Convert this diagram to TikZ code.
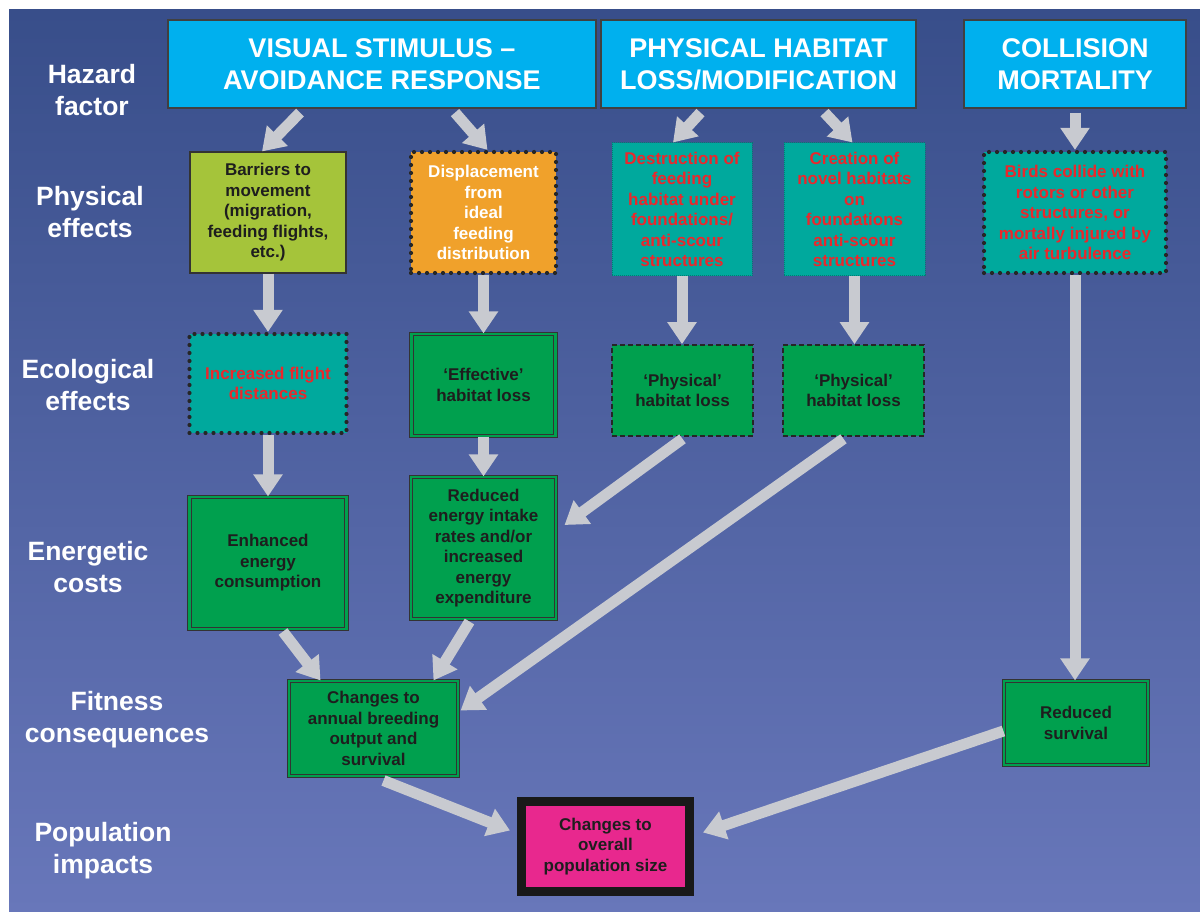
\documentclass[tikz,border=0pt]{standalone}
\usepackage{fontspec}
\setmainfont{Liberation Sans}
\usetikzlibrary{arrows.meta,calc}
\definecolor{bgtop}{RGB}{56,78,138}
\definecolor{bgmid}{RGB}{67,97,168}
\definecolor{bgbot}{RGB}{104,119,186}
\definecolor{hazcyan}{RGB}{0,176,238}
\definecolor{limebox}{RGB}{165,196,58}
\definecolor{orangebox}{RGB}{240,161,43}
\definecolor{tealbox}{RGB}{0,169,157}
\definecolor{tealedge}{RGB}{0,125,115}
\definecolor{greenbox}{RGB}{0,160,78}
\definecolor{redtxt}{RGB}{234,40,44}
\definecolor{pinkbox}{RGB}{232,40,142}
\definecolor{arrgray}{RGB}{200,202,208}
\definecolor{darktxt}{RGB}{30,30,30}

\begin{document}
\begin{tikzpicture}[x=1pt,y=1pt,yscale=-1,xscale=1,
  rowlab/.style={text=white,align=center,font=\fontsize{26.5}{32}\selectfont\bfseries},
  hazbox/.style={draw=black!75,line width=1.2pt,fill=hazcyan,text=white,align=center,inner sep=0pt,font=\fontsize{27}{32}\selectfont\bfseries},
  effbox/.style={align=center,inner sep=0pt,text=darktxt,font=\fontsize{17}{20.5}\selectfont\bfseries},
  plainbox/.style={effbox,draw=black!80,line width=1.2pt},
  dotbox/.style={effbox,draw=black!85,line width=4.2pt,dash pattern=on 0pt off 8pt,line cap=round},
  thindot/.style={effbox,draw=tealedge,line width=1pt,densely dotted},
  dashbox/.style={effbox,draw=black!85,line width=1.6pt,dash pattern=on 5pt off 3pt},
  dblbox/.style={effbox,fill=greenbox,draw=black!80,line width=1.1pt,double=greenbox,double distance=2.6pt},
  flow/.style={draw=arrgray,line width=11pt,-{Triangle[length=22pt,width=28pt]}}]
\useasboundingbox (0,0) rectangle (1200,912);
\fill[white] (0,0) rectangle (1200,912);
%Shape: background
\shade[top color=bgtop,middle color=bgmid,bottom color=bgbot] (9,10) rectangle (1200,912);

% Row labels
\node[rowlab] (haz) at (92,90) {Hazard\\factor};
\node[rowlab] (phy) at (90,212) {Physical\\effects};
\node[rowlab] (eco) at (88,385) {Ecological\\effects};
\node[rowlab] (ene) at (88,567) {Energetic\\costs};
\node[rowlab] (fit) at (117,720) {Fitness\\consequences};
\node[rowlab] (popl) at (103,851) {Population\\impacts};

% Hazard factors
\node[hazbox,minimum width=428,minimum height=88] (vis) at (382,64) {VISUAL STIMULUS –\\AVOIDANCE RESPONSE};
\node[hazbox,minimum width=315,minimum height=88] (phys) at (758.5,64) {PHYSICAL HABITAT\\LOSS/MODIFICATION};
\node[hazbox,minimum width=222,minimum height=88] (coll) at (1075,64) {COLLISION\\MORTALITY};

% Physical effects
\node[plainbox,fill=limebox,minimum width=156,minimum height=121] (barr) at (268,212.5) {Barriers to\\movement\\(migration,\\feeding flights,\\etc.)};
\node[dotbox,fill=orangebox,text=white,minimum width=145,minimum height=121] (disp) at (483.5,212.5) {Displacement\\from\\ideal\\feeding\\distribution};
\node[thindot,fill=tealbox,text=redtxt,minimum width=140,minimum height=133] (dest) at (682,209.5) {Destruction of\\feeding\\habitat under\\foundations/\\anti-scour\\structures};
\node[thindot,fill=tealbox,text=redtxt,minimum width=141,minimum height=133] (crea) at (854.5,209.5) {Creation of\\novel habitats\\on\\foundations\\anti-scour\\structures};
\node[dotbox,fill=tealbox,text=redtxt,minimum width=182,minimum height=121] (bird) at (1075,212.5) {Birds collide with\\rotors or other\\structures, or\\mortally injured by\\air turbulence};

% Ecological effects
\node[dotbox,fill=tealbox,text=redtxt,minimum width=157,minimum height=99] (incr) at (268,383.5) {Increased flight\\distances};
\node[dblbox,minimum width=144,minimum height=102] (effl) at (483.5,385) {‘Effective’\\habitat loss};
\node[dashbox,fill=greenbox,minimum width=141,minimum height=91] (phl1) at (682.5,390.5) {‘Physical’\\habitat loss};
\node[dashbox,fill=greenbox,minimum width=141,minimum height=91] (phl2) at (853.5,390.5) {‘Physical’\\habitat loss};

% Energetic costs
\node[dblbox,minimum width=157,minimum height=132] (enh) at (268,563) {Enhanced\\energy\\consumption};
\node[dblbox,minimum width=145,minimum height=142] (rede) at (483.5,548) {Reduced\\energy intake\\rates and/or\\increased\\energy\\expenditure};

% Fitness consequences
\node[dblbox,minimum width=169,minimum height=95] (chg) at (373.5,728.5) {Changes to\\annual breeding\\output and\\survival};
\node[dblbox,minimum width=144,minimum height=84] (rsurv) at (1076,723) {Reduced\\survival};

% Population impacts
\node[effbox,fill=pinkbox,draw=black!90,line width=9pt,minimum width=168,minimum height=90] (pop) at (605.5,846.5) {Changes to\\overall\\population size};

% Arrows
\draw[flow] ($(vis.south)+(-82,4)$) -- ($(barr.north)+(-6,0)$);
\draw[flow] ($(vis.south)+(73,4)$) -- ($(disp.north)+(4,0)$);
\draw[flow] ($(phys.south)+(-58,4)$) -- ($(dest.north)+(-9,0)$);
\draw[flow] ($(phys.south)+(66,4)$) -- ($(crea.north)+(-2,0)$);
\draw[flow] ($(coll.south)+(0,4)$) -- (coll.south |- bird.north);
\draw[flow] (barr.south) -- (barr.south |- incr.north);
\draw[flow] (disp.south) -- (disp.south |- effl.north);
\draw[flow] (dest.south) -- (dest.south |- phl1.north);
\draw[flow] (crea.south) -- (crea.south |- phl2.north);
\draw[flow] (bird.south) -- (bird.south |- rsurv.north);
\draw[flow] (incr.south) -- (incr.south |- enh.north);
\draw[flow] (effl.south) -- (effl.south |- rede.north);
\draw[flow] ($(phl1.south)+(0,2)$) -- ($(rede.east)+(8,-23)$);
\draw[flow] ($(phl2.south)+(-10,2)$) -- ($(chg.east)+(2,-18)$);
\draw[flow] ($(enh.south)+(15,2)$) -- ($(chg.north)+(-53,0)$);
\draw[flow] ($(rede.south)+(-14,2)$) -- ($(chg.north)+(60,0)$);
\draw[flow] ($(chg.south)+(10,4)$) -- ($(pop.west)+(-7,-16)$);
\draw[flow] ($(rsurv.west)+(0,8)$) -- ($(pop.east)+(9,-14)$);

\end{tikzpicture}
\end{document}
